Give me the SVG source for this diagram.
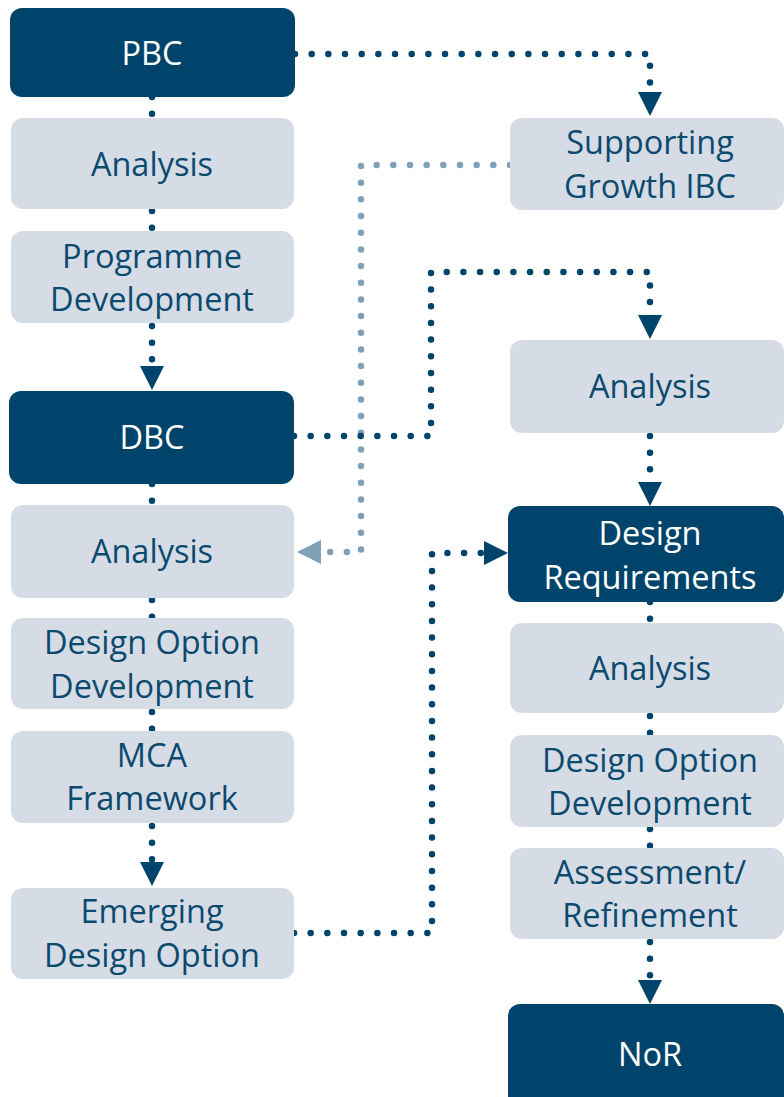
<svg xmlns="http://www.w3.org/2000/svg" width="784" height="1097" viewBox="0 0 784 1097">
<style>
.dark{fill:#00446B}
.light{fill:#D6DCE5}
.t{font-family:"Open Sans","Noto Sans",sans-serif;font-size:32.5px;text-anchor:middle}
.tw{fill:#FFFFFF}
.tb{fill:#0B4A6F}
.c{fill:none;stroke:#00446B;stroke-width:6.5;stroke-linecap:round;stroke-dasharray:0 16.67}
.cl{fill:none;stroke:#7FA1B8;stroke-width:6.5;stroke-linecap:round;stroke-dasharray:0 16.67}
</style>
<defs>
<marker id="ah" markerUnits="userSpaceOnUse" markerWidth="24" markerHeight="24" refX="0" refY="12" orient="auto" viewBox="0 0 24 24">
<path d="M0,0 L24,12 L0,24 Z" fill="#00446B"/>
</marker>
<marker id="ahl" markerUnits="userSpaceOnUse" markerWidth="24" markerHeight="24" refX="0" refY="12" orient="auto" viewBox="0 0 24 24">
<path d="M0,0 L24,12 L0,24 Z" fill="#7FA1B8"/>
</marker>
</defs>

<g id="connectors">
<path class="cl" d="M510,165 H361 V552 H321" marker-end="url(#ahl)"/>
<path class="c" d="M295,54 H650 V92" marker-end="url(#ah)"/>
<path class="c" d="M294,436 H431 V272 H650 V315" marker-end="url(#ah)"/>
<path class="c" d="M294,933 H432 V553 H484" marker-end="url(#ah)"/>
<path class="c" d="M152,326 V366" marker-end="url(#ah)"/>
<path class="c" d="M152,826 V862" marker-end="url(#ah)"/>
<path class="c" d="M650,436 V482" marker-end="url(#ah)"/>
<path class="c" d="M650,942 V980" marker-end="url(#ah)"/>
<path class="c" d="M152,97 V118"/>
<path class="c" d="M152,211 V231"/>
<path class="c" d="M152,484 V505"/>
<path class="c" d="M152,600 V618"/>
<path class="c" d="M152,712 V731"/>
<path class="c" d="M650,602 V623"/>
<path class="c" d="M650,716 V735"/>
<path class="c" d="M650,829 V848"/>
</g>

<g id="pbc"><rect class="dark" x="10" y="8" width="285" height="89" rx="12"/><text class="t tw" x="152" y="65">PBC</text></g>
<g id="analysis1"><rect class="light" x="11" y="118" width="283" height="91" rx="12"/><text class="t tb" x="152" y="176">Analysis</text></g>
<g id="programme"><rect class="light" x="11" y="231" width="283" height="92" rx="12"/><text class="t tb" x="152" y="268">Programme</text><text class="t tb" x="152" y="311">Development</text></g>
<g id="dbc"><rect class="dark" x="9" y="391" width="285" height="93" rx="12"/><text class="t tw" x="152" y="449">DBC</text></g>
<g id="analysis2"><rect class="light" x="11" y="505" width="283" height="93" rx="12"/><text class="t tb" x="152" y="563">Analysis</text></g>
<g id="dod1"><rect class="light" x="11" y="618" width="283" height="91" rx="12"/><text class="t tb" x="152" y="654">Design Option</text><text class="t tb" x="152" y="698">Development</text></g>
<g id="mca"><rect class="light" x="11" y="731" width="283" height="92" rx="12"/><text class="t tb" x="152" y="767">MCA</text><text class="t tb" x="152" y="810">Framework</text></g>
<g id="emerging"><rect class="light" x="11" y="888" width="283" height="91" rx="12"/><text class="t tb" x="152" y="923">Emerging</text><text class="t tb" x="152" y="967">Design Option</text></g>

<g id="supporting"><rect class="light" x="510" y="118" width="274" height="92" rx="12"/><text class="t tb" x="650" y="154">Supporting</text><text class="t tb" x="650" y="198">Growth IBC</text></g>
<g id="analysis3"><rect class="light" x="510" y="340" width="274" height="93" rx="12"/><text class="t tb" x="650" y="398">Analysis</text></g>
<g id="designreq"><rect class="dark" x="508" y="506" width="276" height="96" rx="12"/><text class="t tw" x="650" y="545">Design</text><text class="t tw" x="650" y="589">Requirements</text></g>
<g id="analysis4"><rect class="light" x="510" y="623" width="274" height="90" rx="12"/><text class="t tb" x="650" y="680">Analysis</text></g>
<g id="dod2"><rect class="light" x="510" y="735" width="274" height="92" rx="12"/><text class="t tb" x="650" y="772">Design Option</text><text class="t tb" x="650" y="815">Development</text></g>
<g id="assessment"><rect class="light" x="510" y="848" width="274" height="91" rx="12"/><text class="t tb" x="650" y="884">Assessment/</text><text class="t tb" x="650" y="927">Refinement</text></g>
<g id="nor"><rect class="dark" x="508" y="1004" width="276" height="106" rx="12"/><text class="t tw" x="650" y="1066">NoR</text></g>
</svg>
